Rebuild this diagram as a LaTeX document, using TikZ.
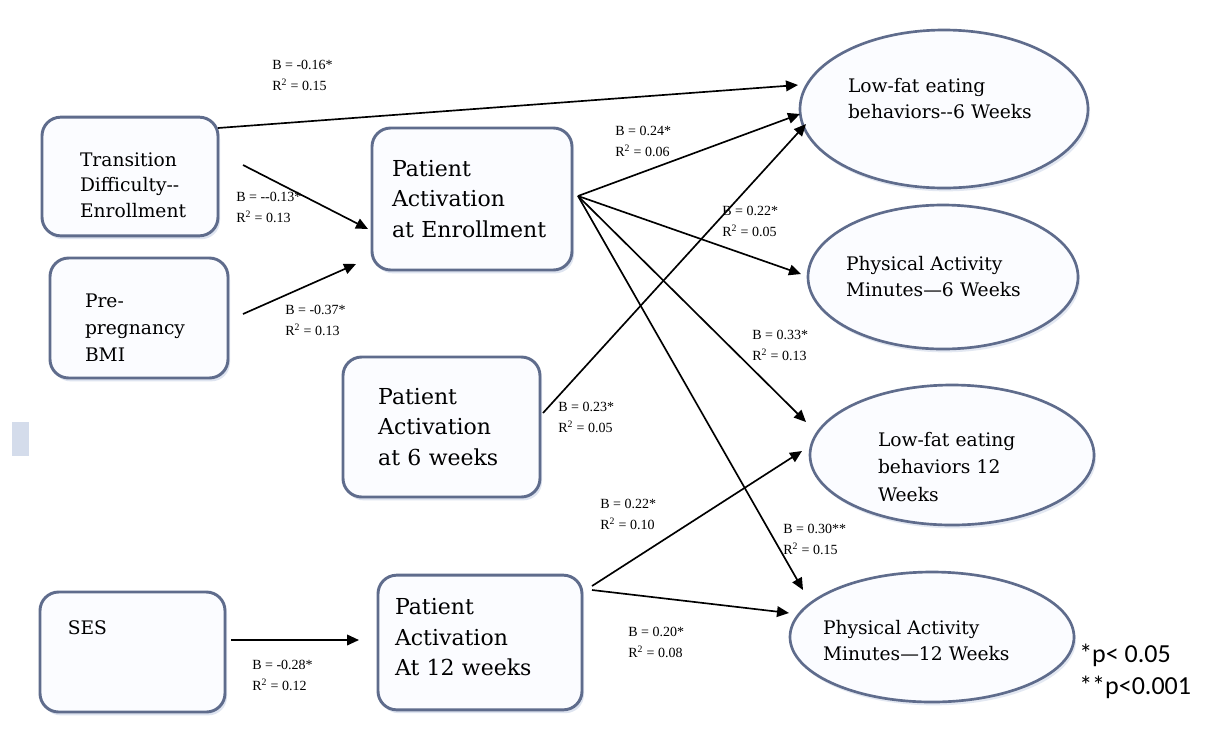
\documentclass[tikz,border=0pt]{standalone}
\usepackage{fontspec}
\setmainfont{DejaVu Serif}
\newfontfamily\labfont{Liberation Serif}
\newfontfamily\notefont{Carlito}
\usetikzlibrary{shapes.geometric,arrows.meta,shadows}
\definecolor{bord}{HTML}{5F6C8C}
\definecolor{shade}{HTML}{C9D3E6}
\definecolor{tint}{HTML}{FBFCFF}
\newcommand\topgap[1]{\rule{0pt}{#1}}
\newcommand\botgap[1]{\rule[-#1]{0pt}{#1}}
\tikzset{
  rbox/.style={draw=bord, line width=2.2pt, rounded corners=14pt, fill=tint,
    drop shadow={shadow xshift=1.5pt, shadow yshift=-2.5pt, fill=shade, opacity=0.6},
    align=left, inner sep=0pt},
  smallbox/.style={rbox, font=\fontsize{14}{19}\selectfont},
  bigbox/.style={rbox, font=\fontsize{16.5}{23}\selectfont},
  oval/.style={ellipse, draw=bord, line width=2pt, fill=tint,
    drop shadow={shadow xshift=1.5pt, shadow yshift=-2.5pt, fill=shade, opacity=0.5},
    align=left, inner sep=-15pt, font=\fontsize{14}{19.5}\selectfont},
  lab/.style={anchor=north west, align=left, inner sep=0pt, font=\labfont\fontsize{10.5}{16}\selectfont},
  arr/.style={-{Triangle[length=9pt,width=8pt]}, line width=1.25pt, black},
}
\begin{document}
\begin{tikzpicture}[x=0.75pt,y=-0.75pt]
\path[use as bounding box, fill=white] (0,0) rectangle (1209,733);
% faint artifact square
\fill[shade!80] (12,422) rectangle (29,456);
% boxes
\node[smallbox, minimum width=132pt, minimum height=89pt, text width=75pt] (TD) at (130,176.5) {\topgap{23pt}Transition\\Difficulty-{}-\\Enrollment};
\node[smallbox, minimum width=133.5pt, minimum height=90pt, text width=81pt, font=\fontsize{14}{20.5}\selectfont] (BMI) at (139,318) {\topgap{24.5pt}Pre-\\pregnancy\\BMI};
\node[bigbox, minimum width=150pt, minimum height=106.5pt, text width=120pt] (PAE) at (472,199) {Patient\\Activation\\at Enrollment};
\node[bigbox, minimum width=147.75pt, minimum height=105pt, text width=95pt] (PA6) at (441.5,427) {Patient\\Activation\\at 6 weeks};
\node[smallbox, minimum width=138.75pt, minimum height=90pt, text width=97pt, text depth=36pt] (SES) at (132.5,652) {SES};
\node[bigbox, minimum width=153pt, minimum height=101pt, text width=127.5pt] (PA12) at (480,642.5) {Patient\\Activation\\At 12 weeks\botgap{8pt}};
% ellipses
\node[oval, minimum width=216pt, minimum height=118.5pt, text width=144pt] (LF6) at (944,109) {Low-fat eating\\behaviors-{}-6 Weeks\botgap{16pt}};
\node[oval, minimum width=202.5pt, minimum height=108pt, text width=145.5pt] (PM6) at (943,277) {Physical Activity\\Minutes---6 Weeks};
\node[oval, minimum width=213pt, minimum height=105pt, text width=111pt, font=\fontsize{14}{20.5}\selectfont] (LF12) at (952,455) {\topgap{28.5pt}Low-fat eating\\behaviors 12\\Weeks};
\node[oval, minimum width=213pt, minimum height=97.5pt, text width=163.5pt] (PM12) at (932,637) {\topgap{16.5pt}Physical Activity\\Minutes---12 Weeks};
% connector end points
\coordinate (a1s) at (218,128); \coordinate (a1e) at (798,85);
\coordinate (a2s) at (243,165); \coordinate (a2e) at (368,229);
\coordinate (a3s) at (243,314); \coordinate (a3e) at (356,264);
\coordinate (hub) at (578,196);
\coordinate (a4e) at (800,114);
\coordinate (a5e) at (801,274);
\coordinate (a6e) at (806,422);
\coordinate (a7e) at (803,590);
\coordinate (a8s) at (543,413); \coordinate (a8e) at (806,124);
\coordinate (a9s) at (592,586); \coordinate (a9e) at (802,451);
\coordinate (a10s) at (592,590); \coordinate (a10e) at (789,613);
\coordinate (a11s) at (231,640); \coordinate (a11e) at (359,640);
\draw[arr] (a1s) -- (a1e);
\draw[arr] (a2s) -- (a2e);
\draw[arr] (a3s) -- (a3e);
\draw[arr] (hub) -- (a4e);
\draw[arr] (hub) -- (a5e);
\draw[arr] (hub) -- (a6e);
\draw[arr] (hub) -- (a7e);
\draw[arr] (a8s) -- (a8e);
\draw[arr] (a9s) -- (a9e);
\draw[arr] (a10s) -- (a10e);
\draw[arr] (a11s) -- (a11e);
% labels
\node[lab] (l1) at (272,60) {B = -0.16*\\R\textsuperscript{2} = 0.15};
\node[lab] (l2) at (236,192) {B = --0.13*\\R\textsuperscript{2} = 0.13};
\node[lab] (l3) at (285,305) {B = -0.37*\\R\textsuperscript{2} = 0.13};
\node[lab] (l4) at (615,126) {B = 0.24*\\R\textsuperscript{2} = 0.06};
\node[lab] (l5) at (722,206) {B = 0.22*\\R\textsuperscript{2} = 0.05};
\node[lab] (l6) at (752,330) {B = 0.33*\\R\textsuperscript{2} = 0.13};
\node[lab] (l7) at (558,402) {B = 0.23*\\R\textsuperscript{2} = 0.05};
\node[lab] (l8) at (600,499) {B = 0.22*\\R\textsuperscript{2} = 0.10};
\node[lab] (l9) at (783,524) {B = 0.30**\\R\textsuperscript{2} = 0.15};
\node[lab] (l10) at (628,627) {B = 0.20*\\R\textsuperscript{2} = 0.08};
\node[lab] (l11) at (252,660) {B = -0.28*\\R\textsuperscript{2} = 0.12};
% footnote
\node[anchor=north west, align=left, inner sep=0pt, font=\notefont\fontsize{19.5}{24}\selectfont] (note) at (1079,644) {*p< 0.05\\**p<0.001};
\end{tikzpicture}
\end{document}
